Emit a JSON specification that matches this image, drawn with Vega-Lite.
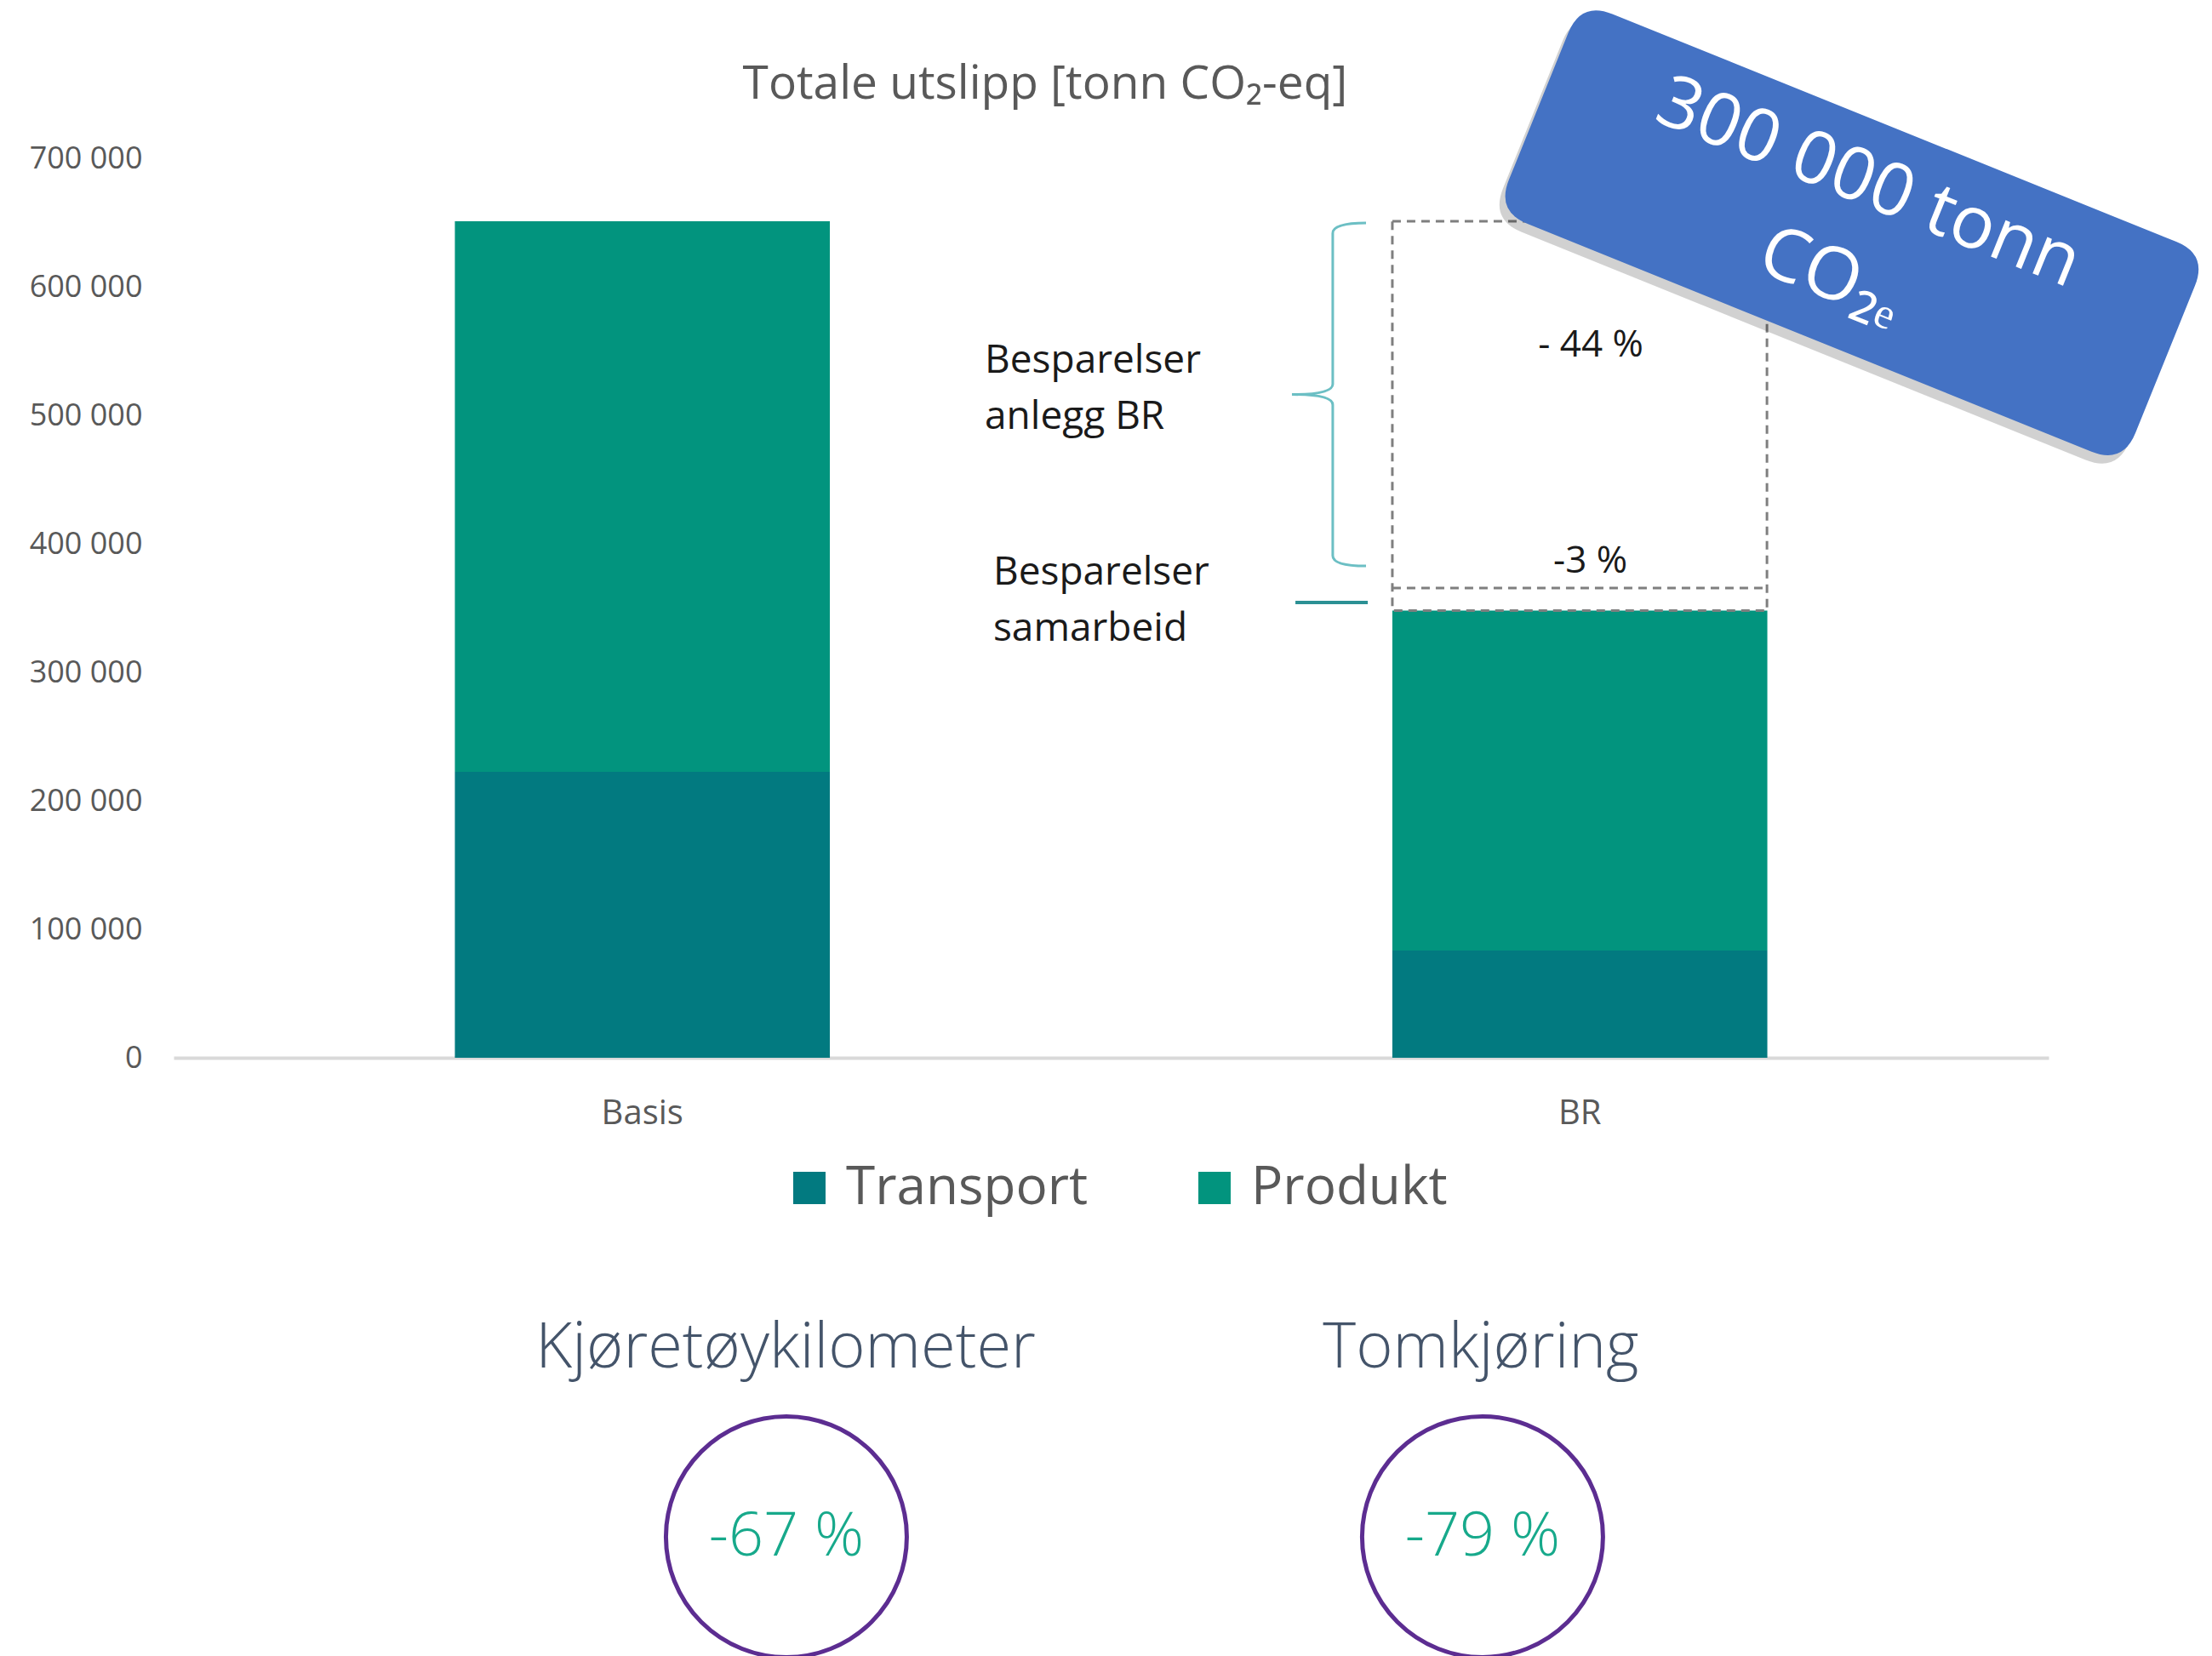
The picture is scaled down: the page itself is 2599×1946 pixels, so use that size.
{
  "$schema": "https://vega.github.io/schema/vega-lite/v6.json",
  "autosize": "none",
  "width": 2203,
  "height": 1946,
  "padding": {"left": 204, "top": 0, "right": 192, "bottom": 0},
  "background": "white",
  "config": {"view": {"stroke": null}, "font": "Open Sans"},
  "resolve": {"scale": {"x": "independent"}},
  "layer": [
    {
      "data": {"values": [
        {"scenario": "Basis", "component": "Transport", "value": 222500},
        {"scenario": "Basis", "component": "Produkt", "value": 428500},
        {"scenario": "BR", "component": "Transport", "value": 83400},
        {"scenario": "BR", "component": "Produkt", "value": 264600}
      ]},
      "mark": {"type": "bar", "width": {"band": 0.4}},
      "encoding": {
        "x": {"field": "scenario", "type": "nominal", "sort": ["Basis", "BR"],
              "scale": {"paddingInner": 0, "paddingOuter": 0},
              "axis": {"orient": "bottom", "offset": -703, "title": null, "domainColor": "#d9d9d9", "domainWidth": 4,
                       "ticks": false, "labelPadding": 45, "labelFontSize": 40, "labelColor": "#595959", "labelAngle": 0, "labelFont": "Open Sans"}},
        "y": {"field": "value", "type": "quantitative", "stack": "zero",
              "scale": {"domain": [-465563, 823179], "nice": false, "zero": false},
              "axis": {"values": [0, 100000, 200000, 300000, 400000, 500000, 600000, 700000],
                       "labelExpr": "replace(format(datum.value, ','), ',', ' ')",
                       "title": null, "domain": false, "ticks": false, "grid": false,
                       "labelPadding": 37, "labelFontSize": 36, "labelColor": "#595959", "labelFont": "Open Sans"}},
        "color": {"field": "component", "type": "nominal",
                  "scale": {"domain": ["Transport", "Produkt"], "range": ["#027a80", "#02947e"]},
                  "legend": {"orient": "none", "legendX": 716, "legendY": 1365, "direction": "horizontal", "title": null,
                             "symbolType": "square", "symbolSize": 1444, "symbolStrokeWidth": 0,
                             "labelFontSize": 62, "labelFont": "Open Sans", "labelColor": "#595959",
                             "columnPadding": 117, "labelOffset": 12, "labelLimit": 600}},
        "order": {"field": "component", "sort": "descending"}
      }
    },
    {
      "data": {"values": [{"box": "BR besparelser"}]},
      "mark": {"type": "rect", "fill": "transparent", "stroke": "#7f7f7f", "strokeWidth": 3, "strokeDash": [10, 7]},
      "encoding": {
        "x": {"datum": 65.0, "type": "quantitative", "scale": {"domain": [0, 100], "nice": false, "zero": false}, "axis": null},
        "x2": {"datum": 84.98},
        "y": {"datum": 348000, "type": "quantitative", "scale": {"domain": [-465563, 823179], "nice": false, "zero": false}},
        "y2": {"datum": 651000}
      }
    },
    {
      "data": {"values": [{"line": "samarbeid"}]},
      "mark": {"type": "rule", "stroke": "#7f7f7f", "strokeWidth": 3, "strokeDash": [10, 7]},
      "encoding": {
        "x": {"datum": 65.0, "type": "quantitative", "scale": {"domain": [0, 100], "nice": false, "zero": false}, "axis": null},
        "x2": {"datum": 84.98},
        "y": {"datum": 365600, "type": "quantitative", "scale": {"domain": [-465563, 823179], "nice": false, "zero": false}}
      }
    },
    {
      "data": {"values": [{"item": "brace"}]},
      "mark": {"type": "point", "filled": false, "stroke": "#6cbfc4", "strokeWidth": 3, "opacity": 1, "size": 162409,
               "shape": "M 0.216 -1 Q 0.022 -1 0.022 -0.94 L 0.022 -0.06 Q 0.022 0 -0.216 0 Q 0.022 0 0.022 0.06 L 0.022 0.94 Q 0.022 1 0.216 1"},
      "encoding": {
        "x": {"datum": 61.62, "type": "quantitative", "scale": {"domain": [0, 100], "nice": false, "zero": false}, "axis": null},
        "y": {"datum": 516200, "type": "quantitative", "scale": {"domain": [-465563, 823179], "nice": false, "zero": false}}
      }
    },
    {
      "data": {"values": [{"item": "samarbeid"}]},
      "mark": {"type": "rule", "stroke": "#2b9094", "strokeWidth": 4},
      "encoding": {
        "x": {"datum": 59.83, "type": "quantitative", "scale": {"domain": [0, 100], "nice": false, "zero": false}, "axis": null},
        "x2": {"datum": 63.69},
        "y": {"datum": 354300, "type": "quantitative", "scale": {"domain": [-465563, 823179], "nice": false, "zero": false}}
      }
    },
    {
      "data": {"values": [{"label": "Totale utslipp [tonn CO₂-eq]"}]},
      "mark": {"type": "text", "fontSize": 55, "font": "Open Sans", "color": "#595959", "align": "center", "baseline": "middle"},
      "encoding": {
        "x": {"datum": 46.48, "type": "quantitative", "scale": {"domain": [0, 100], "nice": false, "zero": false}, "axis": null},
        "y": {"datum": 757600, "type": "quantitative", "scale": {"domain": [-465563, 823179], "nice": false, "zero": false}},
        "text": {"field": "label"}
      }
    },
    {
      "data": {"values": [{"label": ["Besparelser", "anlegg BR"]}]},
      "mark": {"type": "text", "fontSize": 46, "font": "Open Sans", "color": "#1a1a1a", "align": "left", "baseline": "middle", "lineHeight": 66},
      "encoding": {
        "x": {"datum": 43.26, "type": "quantitative", "scale": {"domain": [0, 100], "nice": false, "zero": false}, "axis": null},
        "y": {"datum": 542400, "type": "quantitative", "scale": {"domain": [-465563, 823179], "nice": false, "zero": false}},
        "text": {"field": "label"}
      }
    },
    {
      "data": {"values": [{"label": ["Besparelser", "samarbeid"]}]},
      "mark": {"type": "text", "fontSize": 46, "font": "Open Sans", "color": "#1a1a1a", "align": "left", "baseline": "middle", "lineHeight": 66},
      "encoding": {
        "x": {"datum": 43.71, "type": "quantitative", "scale": {"domain": [0, 100], "nice": false, "zero": false}, "axis": null},
        "y": {"datum": 377500, "type": "quantitative", "scale": {"domain": [-465563, 823179], "nice": false, "zero": false}},
        "text": {"field": "label"}
      }
    },
    {
      "data": {"values": [{"label": "- 44 %"}]},
      "mark": {"type": "text", "fontSize": 44, "font": "Open Sans", "color": "#1a1a1a", "align": "center", "baseline": "middle"},
      "encoding": {
        "x": {"datum": 75.58, "type": "quantitative", "scale": {"domain": [0, 100], "nice": false, "zero": false}, "axis": null},
        "y": {"datum": 554300, "type": "quantitative", "scale": {"domain": [-465563, 823179], "nice": false, "zero": false}},
        "text": {"field": "label"}
      }
    },
    {
      "data": {"values": [{"label": "-3 %"}]},
      "mark": {"type": "text", "fontSize": 44, "font": "Open Sans", "color": "#1a1a1a", "align": "center", "baseline": "middle"},
      "encoding": {
        "x": {"datum": 75.56, "type": "quantitative", "scale": {"domain": [0, 100], "nice": false, "zero": false}, "axis": null},
        "y": {"datum": 386100, "type": "quantitative", "scale": {"domain": [-465563, 823179], "nice": false, "zero": false}},
        "text": {"field": "label"}
      }
    },
    {
      "data": {"values": [{"item": "badge shadow"}]},
      "mark": {"type": "point", "filled": true, "fill": "#000000", "opacity": 0.18, "strokeWidth": 0, "size": 630436, "angle": 22,
               "shape": "M -0.9 -0.335 L 0.9 -0.335 Q 1 -0.335 1 -0.235 L 1 0.235 Q 1 0.335 0.9 0.335 L -0.9 0.335 Q -1 0.335 -1 0.235 L -1 -0.235 Q -1 -0.335 -0.9 -0.335 Z"},
      "encoding": {
        "x": {"datum": 89.2, "type": "quantitative", "scale": {"domain": [0, 100], "nice": false, "zero": false}, "axis": null},
        "y": {"datum": 635500, "type": "quantitative", "scale": {"domain": [-465563, 823179], "nice": false, "zero": false}}
      }
    },
    {
      "data": {"values": [{"item": "badge"}]},
      "mark": {"type": "point", "filled": true, "fill": "#4472c4", "opacity": 1, "strokeWidth": 0, "size": 630436, "angle": 22,
               "shape": "M -0.9 -0.335 L 0.9 -0.335 Q 1 -0.335 1 -0.235 L 1 0.235 Q 1 0.335 0.9 0.335 L -0.9 0.335 Q -1 0.335 -1 0.235 L -1 -0.235 Q -1 -0.335 -0.9 -0.335 Z"},
      "encoding": {
        "x": {"datum": 89.51, "type": "quantitative", "scale": {"domain": [0, 100], "nice": false, "zero": false}, "axis": null},
        "y": {"datum": 642000, "type": "quantitative", "scale": {"domain": [-465563, 823179], "nice": false, "zero": false}}
      }
    },
    {
      "data": {"values": [{"label": ["300 000 tonn", "CO₂ₑ"]}]},
      "mark": {"type": "text", "fontSize": 86, "font": "Open Sans", "color": "white", "align": "center", "baseline": "middle", "angle": 22, "lineHeight": 118},
      "encoding": {
        "x": {"datum": 90.4, "type": "quantitative", "scale": {"domain": [0, 100], "nice": false, "zero": false}, "axis": null},
        "y": {"datum": 680500, "type": "quantitative", "scale": {"domain": [-465563, 823179], "nice": false, "zero": false}},
        "text": {"field": "label"}
      }
    },
    {
      "data": {"values": [{"label": "Kjøretøykilometer"}]},
      "mark": {"type": "text", "fontSize": 74, "font": "Open Sans", "fontWeight": 300, "color": "#44546a", "align": "center", "baseline": "middle"},
      "encoding": {
        "x": {"datum": 32.64, "type": "quantitative", "scale": {"domain": [0, 100], "nice": false, "zero": false}, "axis": null},
        "y": {"datum": -226500, "type": "quantitative", "scale": {"domain": [-465563, 823179], "nice": false, "zero": false}},
        "text": {"field": "label"}
      }
    },
    {
      "data": {"values": [{"label": "Tomkjøring"}]},
      "mark": {"type": "text", "fontSize": 74, "font": "Open Sans", "fontWeight": 300, "color": "#44546a", "align": "center", "baseline": "middle"},
      "encoding": {
        "x": {"datum": 69.72, "type": "quantitative", "scale": {"domain": [0, 100], "nice": false, "zero": false}, "axis": null},
        "y": {"datum": -226500, "type": "quantitative", "scale": {"domain": [-465563, 823179], "nice": false, "zero": false}},
        "text": {"field": "label"}
      }
    },
    {
      "data": {"values": [{"item": "ring 1"}]},
      "mark": {"type": "point", "shape": "circle", "filled": false, "stroke": "#5c2d91", "strokeWidth": 5, "opacity": 1, "size": 80089},
      "encoding": {
        "x": {"datum": 32.68, "type": "quantitative", "scale": {"domain": [0, 100], "nice": false, "zero": false}, "axis": null},
        "y": {"datum": -372800, "type": "quantitative", "scale": {"domain": [-465563, 823179], "nice": false, "zero": false}}
      }
    },
    {
      "data": {"values": [{"item": "ring 2"}]},
      "mark": {"type": "point", "shape": "circle", "filled": false, "stroke": "#5c2d91", "strokeWidth": 5, "opacity": 1, "size": 80089},
      "encoding": {
        "x": {"datum": 69.81, "type": "quantitative", "scale": {"domain": [0, 100], "nice": false, "zero": false}, "axis": null},
        "y": {"datum": -372800, "type": "quantitative", "scale": {"domain": [-465563, 823179], "nice": false, "zero": false}}
      }
    },
    {
      "data": {"values": [{"label": "-67 %"}]},
      "mark": {"type": "text", "fontSize": 72, "font": "Open Sans", "fontWeight": 300, "color": "#17a98b", "align": "center", "baseline": "middle"},
      "encoding": {
        "x": {"datum": 32.68, "type": "quantitative", "scale": {"domain": [0, 100], "nice": false, "zero": false}, "axis": null},
        "y": {"datum": -372800, "type": "quantitative", "scale": {"domain": [-465563, 823179], "nice": false, "zero": false}},
        "text": {"field": "label"}
      }
    },
    {
      "data": {"values": [{"label": "-79 %"}]},
      "mark": {"type": "text", "fontSize": 72, "font": "Open Sans", "fontWeight": 300, "color": "#17a98b", "align": "center", "baseline": "middle"},
      "encoding": {
        "x": {"datum": 69.81, "type": "quantitative", "scale": {"domain": [0, 100], "nice": false, "zero": false}, "axis": null},
        "y": {"datum": -372800, "type": "quantitative", "scale": {"domain": [-465563, 823179], "nice": false, "zero": false}},
        "text": {"field": "label"}
      }
    }
  ]
}
